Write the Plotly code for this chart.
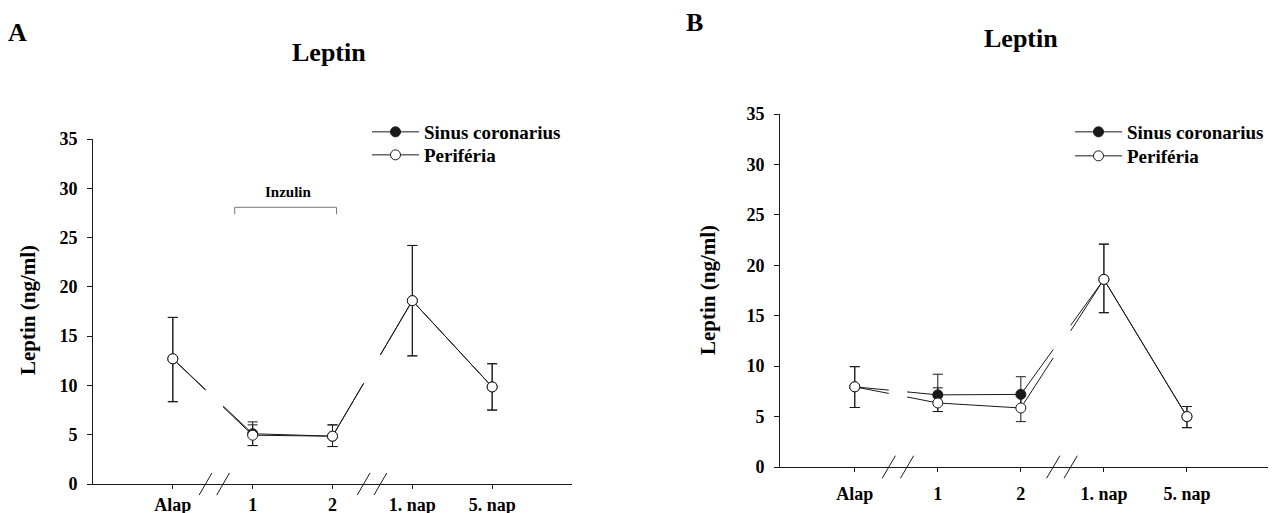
import plotly.graph_objects as go

# ---------------- data ----------------
categories = ["Alap", "1", "2", "1. nap", "5. nap"]
cat_pos = [1, 2, 3, 4, 5]

# Panel A
A_sinus = [12.7, 5.1, 4.85, 18.6, 9.85]
A_sinus_plus = [4.2, 1.2, 1.15, 5.6, 2.35]
A_sinus_minus = [4.35, 1.2, 1.05, 5.6, 2.35]
A_peri = [12.7, 4.95, 4.85, 18.6, 9.85]
A_peri_plus = [4.2, 1.05, 1.15, 5.6, 2.35]
A_peri_minus = [4.35, 1.05, 1.05, 5.6, 2.35]

# Panel B
B_sinus = [7.95, 7.15, 7.2, 18.6, 5.0]
B_sinus_plus = [2.0, 2.05, 1.75, 3.5, 1.0]
B_sinus_minus = [2.05, 1.65, 1.3, 3.3, 1.1]
B_peri = [7.95, 6.35, 5.85, 18.6, 5.0]
B_peri_plus = [2.0, 1.5, 1.3, 3.5, 1.0]
B_peri_minus = [2.05, 0.85, 1.35, 3.3, 1.1]

y_ticks = [0, 5, 10, 15, 20, 25, 30, 35]
series_names = ["Sinus coronarius", "Periféria"]

# ---------------- style ----------------
FONT = "Liberation Serif, Times New Roman, serif"
INK = "#1a1a1a"
BREAKS = [(1.41, 1.63), (3.39, 3.60)]
W, H = 1276, 513
OX, OY = 8, 8  # page body margin offset


def PX(x):
    return (x - OX) / W


def PY(y):
    return 1 - (y - OY) / H


def broken(xv, yv):
    xs, ys = [xv[0]], [yv[0]]
    for i in range(1, len(xv)):
        x0, y0, x1, y1 = xv[i - 1], yv[i - 1], xv[i], yv[i]
        for b0, b1 in BREAKS:
            if x0 < b0 and b1 < x1:
                ya = y0 + (y1 - y0) * (b0 - x0) / (x1 - x0)
                yb = y0 + (y1 - y0) * (b1 - x0) / (x1 - x0)
                xs += [b0, None, b1]
                ys += [ya, None, yb]
        xs.append(x1)
        ys.append(y1)
    return xs, ys


fig = go.Figure()

panels = [
    ("x", "y", ["legend", "legend2"], [A_sinus, A_peri], [A_sinus_plus, A_peri_plus], [A_sinus_minus, A_peri_minus]),
    ("x2", "y2", ["legend3", "legend4"], [B_sinus, B_peri], [B_sinus_plus, B_peri_plus], [B_sinus_minus, B_peri_minus]),
]

for xa, ya, legs, vals, plus, minus in panels:
    for v in vals:
        lx, ly = broken(cat_pos, v)
        fig.add_trace(go.Scatter(x=lx, y=ly, mode="lines", xaxis=xa, yaxis=ya,
                                 line=dict(color=INK, width=1), showlegend=False,
                                 hoverinfo="skip", connectgaps=False))
    for k, v in enumerate(vals):
        filled = (k == 0)
        fig.add_trace(go.Scatter(
            x=cat_pos, y=v, mode="markers", xaxis=xa, yaxis=ya, showlegend=False,
            marker=dict(size=10, color=INK if filled else "white",
                        line=dict(color=INK, width=1)),
            error_y=dict(type="data", array=plus[k], arrayminus=minus[k], symmetric=False,
                         color=INK, thickness=1, width=5),
        ))
    for k, name in enumerate(series_names):
        filled = (k == 0)
        fig.add_trace(go.Scatter(
            x=[None], y=[None], mode="lines+markers", name=name, xaxis=xa, yaxis=ya,
            legend=legs[k], showlegend=True, line=dict(color=INK, width=1),
            marker=dict(size=10, color=INK if filled else "white",
                        line=dict(color=INK, width=1)),
        ))

axis_common = dict(showline=True, linecolor=INK, linewidth=1, showgrid=False, zeroline=False,
                   ticks="outside", tickcolor=INK, tickwidth=1, automargin=False,
                   tickfont=dict(family=FONT, size=18, color="black", weight="bold"))


def legend_at(text_x, row_y):
    return dict(x=PX(text_x - 58), y=PY(row_y), xanchor="left", yanchor="middle",
                bgcolor="rgba(0,0,0,0)", itemwidth=47, borderwidth=0,
                font=dict(family=FONT, size=19, color="black", weight="bold"))


fig.update_layout(
    width=W, height=H,
    margin=dict(l=0, r=0, t=0, b=0, autoexpand=False),
    paper_bgcolor="white", plot_bgcolor="white",
    showlegend=True,
    xaxis=dict(domain=[PX(93), PX(572)], range=[0, 6], tickvals=cat_pos, ticktext=categories,
               ticklen=4, anchor="y", **axis_common),
    yaxis=dict(domain=[PY(484), PY(139)], range=[0, 35], tickvals=y_ticks, ticklen=5,
               ticklabelstandoff=6, anchor="x", **axis_common),
    xaxis2=dict(domain=[PX(780), PX(1270)], range=[0.1, 6], tickvals=cat_pos, ticktext=categories,
                ticklen=4, ticklabelstandoff=6, anchor="y2", **axis_common),
    yaxis2=dict(domain=[PY(467), PY(114)], range=[0, 35], tickvals=y_ticks, ticklen=5,
                ticklabelstandoff=6, anchor="x2", **axis_common),
    legend=legend_at(425, 132),
    legend2=legend_at(425, 155),
    legend3=legend_at(1128, 132),
    legend4=legend_at(1128, 156),
)

shapes = []
for xa, ya in [("x", "y"), ("x2", "y2")]:
    for b0, b1 in BREAKS:
        for c in (b0, b1):
            shapes.append(dict(type="line", xref=xa, yref=ya + " domain",
                               x0=c - 0.08, x1=c + 0.08, y0=-0.032, y1=0.032,
                               line=dict(color=INK, width=1)))
shapes.append(dict(type="path", xref="x", yref="y",
                   path="M 1.775 27.36 L 1.775 28.07 L 3.05 28.07 L 3.05 27.36",
                   line=dict(color="#777777", width=1)))
fig.update_layout(shapes=shapes)

ann = [
    dict(text="A", x=18, y=32, size=26),
    dict(text="B", x=695, y=22, size=26),
    dict(text="Leptin", x=329, y=52, size=26),
    dict(text="Leptin", x=1021, y=38, size=26),
]
annotations = []
for a in ann:
    annotations.append(dict(text=a["text"], x=PX(a["x"]), y=PY(a["y"]), xref="paper", yref="paper",
                            xanchor="center", yanchor="middle", showarrow=False,
                            font=dict(family=FONT, size=a["size"], color="black", weight="bold")))
for xc, yc in [(28, 310), (708, 290)]:
    annotations.append(dict(text="Leptin (ng/ml)", x=PX(xc), y=PY(yc), xref="paper",
                            yref="paper", textangle=-90, showarrow=False,
                            xanchor="center", yanchor="middle",
                            font=dict(family=FONT, size=21, color="black", weight="bold")))
annotations.append(dict(text="Inzulin", x=2.45, y=29.6, xref="x", yref="y", showarrow=False,
                        xanchor="center", yanchor="middle",
                        font=dict(family=FONT, size=15, color="black", weight="bold")))
fig.update_layout(annotations=annotations)

fig.write_html("out.html")
